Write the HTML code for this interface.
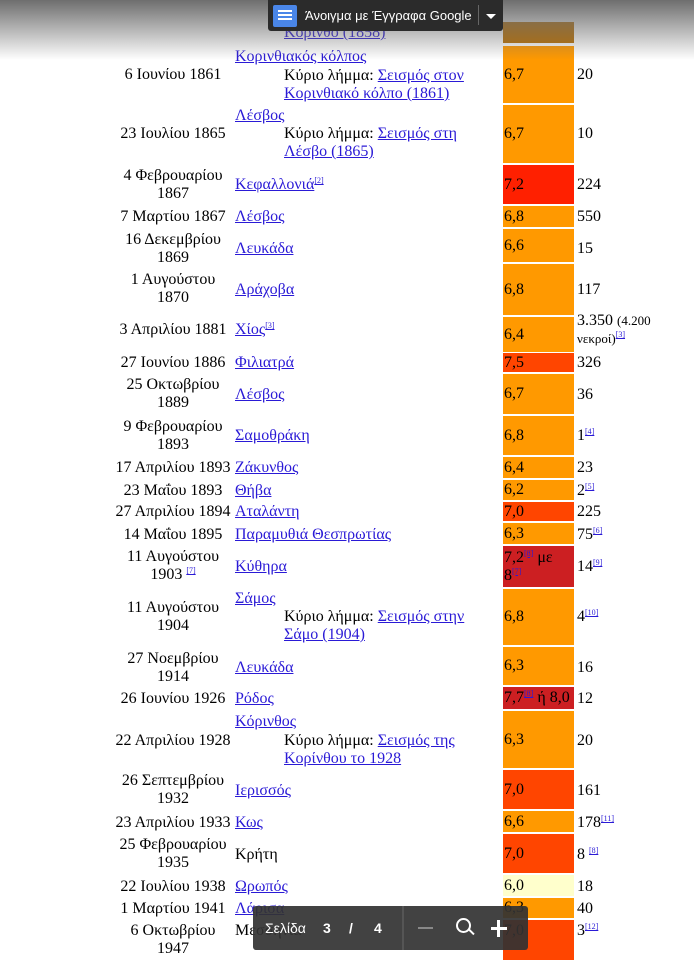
<!DOCTYPE html>
<html><head><meta charset="utf-8">
<style>
body{margin:0;width:694px;height:960px;overflow:hidden;background:#fff;font-family:"Liberation Serif",serif;font-size:16px;color:#000;position:relative}
.a{position:absolute;white-space:nowrap;line-height:18px}
.d{position:absolute;left:108px;width:130px;text-align:center;line-height:18px}
a{text-decoration:underline;color:#2a1ad6}
sup{font-size:8px;vertical-align:6px;line-height:0}
.m{position:absolute;left:503px;width:71px;padding-left:1px;box-sizing:border-box;display:flex;align-items:center;line-height:18px}
.o{background:#ff9900}.r{background:#ff4500}.r2{background:#ff2000}.dr{background:#cc1f22}.y{background:#ffffcc}
</style></head><body>
<div class="m" style="top:22px;height:21px;background:#b86e00"></div>
<div class="a" style="left:284px;top:24px"><a>Κόρινθο (1858)</a></div>

<div class="d" style="top:66px">6 Ιουνίου 1861</div>
<div class="a" style="left:235px;top:48px"><a>Κορινθιακός κόλπος</a></div>
<div class="a" style="left:284px;top:67px">Κύριο λήμμα: <a>Σεισμός στον </a><br><a>Κορινθιακό κόλπο (1861)</a></div>
<div class="m o" style="top:46px;height:57px"><span>6,7</span></div><div class="a" style="left:577px;top:66px">20</div>

<div class="d" style="top:125px">23 Ιουλίου 1865</div>
<div class="a" style="left:235px;top:107px"><a>Λέσβος</a></div>
<div class="a" style="left:284px;top:125px">Κύριο λήμμα: <a>Σεισμός στη </a><br><a>Λέσβο (1865)</a></div>
<div class="m o" style="top:105px;height:58px"><span>6,7</span></div><div class="a" style="left:577px;top:125px">10</div>

<div class="d" style="top:167px">4 Φεβρουαρίου<br>1867</div>
<div class="a" style="left:235px;top:176px"><a>Κεφαλλονιά</a><sup><a>[2]</a></sup></div>
<div class="m r2" style="top:165px;height:39px"><span>7,2</span></div><div class="a" style="left:577px;top:176px">224</div>

<div class="d" style="top:208px">7 Μαρτίου 1867</div>
<div class="a" style="left:235px;top:208px"><a>Λέσβος</a></div>
<div class="m o" style="top:206px;height:21px"><span>6,8</span></div><div class="a" style="left:577px;top:208px">550</div>

<div class="d" style="top:231px">16 Δεκεμβρίου<br>1869</div>
<div class="a" style="left:235px;top:240px"><a>Λευκάδα</a></div>
<div class="m o" style="top:229px;height:33px"><span>6,6</span></div><div class="a" style="left:577px;top:240px">15</div>

<div class="d" style="top:271px">1 Αυγούστου<br>1870</div>
<div class="a" style="left:235px;top:281px"><a>Αράχοβα</a></div>
<div class="m o" style="top:264px;height:51px"><span>6,8</span></div><div class="a" style="left:577px;top:281px">117</div>

<div class="d" style="top:321px">3 Απριλίου 1881</div>
<div class="a" style="left:235px;top:321px"><a>Χίος</a><sup><a>[3]</a></sup></div>
<div class="m o" style="top:317px;height:35px"><span>6,4</span></div><div class="a" style="left:577px;top:312px">3.350 <span style="font-size:13px">(4.200<br>νεκροί)<sup><a>[3]</a></sup></span></div>

<div class="d" style="top:354px">27 Ιουνίου 1886</div>
<div class="a" style="left:235px;top:354px"><a>Φιλιατρά</a></div>
<div class="m r" style="top:353px;height:19px"><span>7,5</span></div><div class="a" style="left:577px;top:354px">326</div>

<div class="d" style="top:376px">25 Οκτωβρίου<br>1889</div>
<div class="a" style="left:235px;top:386px"><a>Λέσβος</a></div>
<div class="m o" style="top:374px;height:40px"><span>6,7</span></div><div class="a" style="left:577px;top:386px">36</div>

<div class="d" style="top:418px">9 Φεβρουαρίου<br>1893</div>
<div class="a" style="left:235px;top:427px"><a>Σαμοθράκη</a></div>
<div class="m o" style="top:416px;height:39px"><span>6,8</span></div><div class="a" style="left:577px;top:427px">1<sup><a>[4]</a></sup></div>

<div class="d" style="top:459px">17 Απριλίου 1893</div>
<div class="a" style="left:235px;top:459px"><a>Ζάκυνθος</a></div>
<div class="m o" style="top:457px;height:21px"><span>6,4</span></div><div class="a" style="left:577px;top:459px">23</div>

<div class="d" style="top:482px">23 Μαΐου 1893</div>
<div class="a" style="left:235px;top:482px"><a>Θήβα</a></div>
<div class="m o" style="top:480px;height:20px"><span>6,2</span></div><div class="a" style="left:577px;top:482px">2<sup><a>[5]</a></sup></div>

<div class="d" style="top:503px">27 Απριλίου 1894</div>
<div class="a" style="left:235px;top:503px"><a>Αταλάντη</a></div>
<div class="m r" style="top:502px;height:19px"><span>7,0</span></div><div class="a" style="left:577px;top:503px">225</div>

<div class="d" style="top:526px">14 Μαΐου 1895</div>
<div class="a" style="left:235px;top:526px"><a>Παραμυθιά Θεσπρωτίας</a></div>
<div class="m o" style="top:523px;height:21px"><span>6,3</span></div><div class="a" style="left:577px;top:526px">75<sup><a>[6]</a></sup></div>

<div class="d" style="top:548px">11 Αυγούστου<br>1903 <sup><a>[7]</a></sup></div>
<div class="a" style="left:235px;top:558px"><a>Κύθηρα</a></div>
<div class="m dr" style="top:546px;height:41px"><span>7,2<sup><a>[8]</a></sup> με<br>8<sup><a>[7]</a></sup></span></div>
<div class="a" style="left:577px;top:558px">14<sup><a>[9]</a></sup></div>

<div class="d" style="top:599px">11 Αυγούστου<br>1904</div>
<div class="a" style="left:235px;top:590px"><a>Σάμος</a></div>
<div class="a" style="left:284px;top:608px">Κύριο λήμμα: <a>Σεισμός στην </a><br><a>Σάμο (1904)</a></div>
<div class="m o" style="top:589px;height:56px"><span>6,8</span></div><div class="a" style="left:577px;top:608px">4<sup><a>[10]</a></sup></div>

<div class="d" style="top:650px">27 Νοεμβρίου<br>1914</div>
<div class="a" style="left:235px;top:659px"><a>Λευκάδα</a></div>
<div class="m o" style="top:647px;height:38px"><span>6,3</span></div><div class="a" style="left:577px;top:659px">16</div>

<div class="d" style="top:690px">26 Ιουνίου 1926</div>
<div class="a" style="left:235px;top:690px"><a>Ρόδος</a></div>
<div class="m dr" style="top:687px;height:22px"><span>7,7<sup><a>[8]</a></sup> ή 8,0</span></div><div class="a" style="left:577px;top:690px">12</div>

<div class="d" style="top:732px">22 Απριλίου 1928</div>
<div class="a" style="left:235px;top:713px"><a>Κόρινθος</a></div>
<div class="a" style="left:284px;top:732px">Κύριο λήμμα: <a>Σεισμός της </a><br><a>Κορίνθου το 1928</a></div>
<div class="m o" style="top:711px;height:57px"><span>6,3</span></div><div class="a" style="left:577px;top:732px">20</div>

<div class="d" style="top:772px">26 Σεπτεμβρίου<br>1932</div>
<div class="a" style="left:235px;top:782px"><a>Ιερισσός</a></div>
<div class="m r" style="top:770px;height:39px"><span>7,0</span></div><div class="a" style="left:577px;top:782px">161</div>

<div class="d" style="top:814px">23 Απριλίου 1933</div>
<div class="a" style="left:235px;top:814px"><a>Κως</a></div>
<div class="m o" style="top:811px;height:21px"><span>6,6</span></div><div class="a" style="left:577px;top:814px">178<sup><a>[11]</a></sup></div>

<div class="d" style="top:836px">25 Φεβρουαρίου<br>1935</div>
<div class="a" style="left:235px;top:846px">Κρήτη</div>
<div class="m r" style="top:834px;height:39px"><span>7,0</span></div><div class="a" style="left:577px;top:846px">8 <sup><a>[8]</a></sup></div>

<div class="d" style="top:878px">22 Ιουλίου 1938</div>
<div class="a" style="left:235px;top:878px"><a>Ωρωπός</a></div>
<div class="m y" style="top:875px;height:21px"><span>6,0</span></div><div class="a" style="left:577px;top:878px">18</div>

<div class="d" style="top:900px">1 Μαρτίου 1941</div>
<div class="a" style="left:235px;top:900px"><a>Λάρισα</a></div>
<div class="m o" style="top:898px;height:20px"><span>6,3</span></div><div class="a" style="left:577px;top:900px">40</div>

<div class="d" style="top:922px">6 Οκτωβρίου<br>1947</div>
<div class="a" style="left:235px;top:922px">Μεσσηνία</div>
<div class="m r" style="top:920px;height:40px;align-items:flex-start;padding-top:2px"><span>7,0</span></div><div class="a" style="left:577px;top:922px">3<sup><a>[12]</a></sup></div>

<div style="position:absolute;left:0;top:0;width:694px;height:60px;background:linear-gradient(#6e6e6e,rgba(255,255,255,0))"></div>
<div style="position:absolute;left:268px;top:0;width:235px;height:31px;background:#2b2b2b;border-radius:0 0 3px 3px;font-family:'Liberation Sans',sans-serif;color:#fff;font-size:13px">
<div style="position:absolute;left:5px;top:5px;width:24px;height:22px;background:#4a86e8;border-radius:2px"></div>
<div style="position:absolute;left:10px;top:10px;width:14px;height:10px;background:repeating-linear-gradient(#fff 0 2px,transparent 2px 4px)"></div>
<div style="position:absolute;left:37px;top:8px">Άνοιγμα με Έγγραφα Google</div>
<div style="position:absolute;left:210px;top:5px;width:1px;height:20px;background:#666"></div>
<div style="position:absolute;left:218px;top:14px;border:5px solid transparent;border-top-color:#fff"></div>
</div>
<div style="position:absolute;left:253px;top:906px;width:275px;height:44px;background:rgba(50,50,50,.92);border-radius:3px;font-family:'Liberation Sans',sans-serif;color:#fff;font-size:14px">
<div style="position:absolute;left:12px;top:14px">Σελίδα</div>
<div style="position:absolute;left:70px;top:14px;font-weight:bold">3</div>
<div style="position:absolute;left:96px;top:14px;font-weight:bold">/</div>
<div style="position:absolute;left:121px;top:14px;font-weight:bold">4</div>
<div style="position:absolute;left:149px;top:0;width:2px;height:44px;background:#555"></div>
<div style="position:absolute;left:165px;top:21px;width:15px;height:2px;background:#888"></div>
<div style="position:absolute;left:203px;top:12px;width:11px;height:11px;border:2px solid #fff;border-radius:50%"></div>
<div style="position:absolute;left:215px;top:25px;width:7px;height:2px;background:#fff;transform:rotate(45deg)"></div>
<div style="position:absolute;left:238px;top:21px;width:16px;height:3px;background:#fff"></div>
<div style="position:absolute;left:244px;top:14px;width:3px;height:17px;background:#fff"></div>
</div>
</body></html>
